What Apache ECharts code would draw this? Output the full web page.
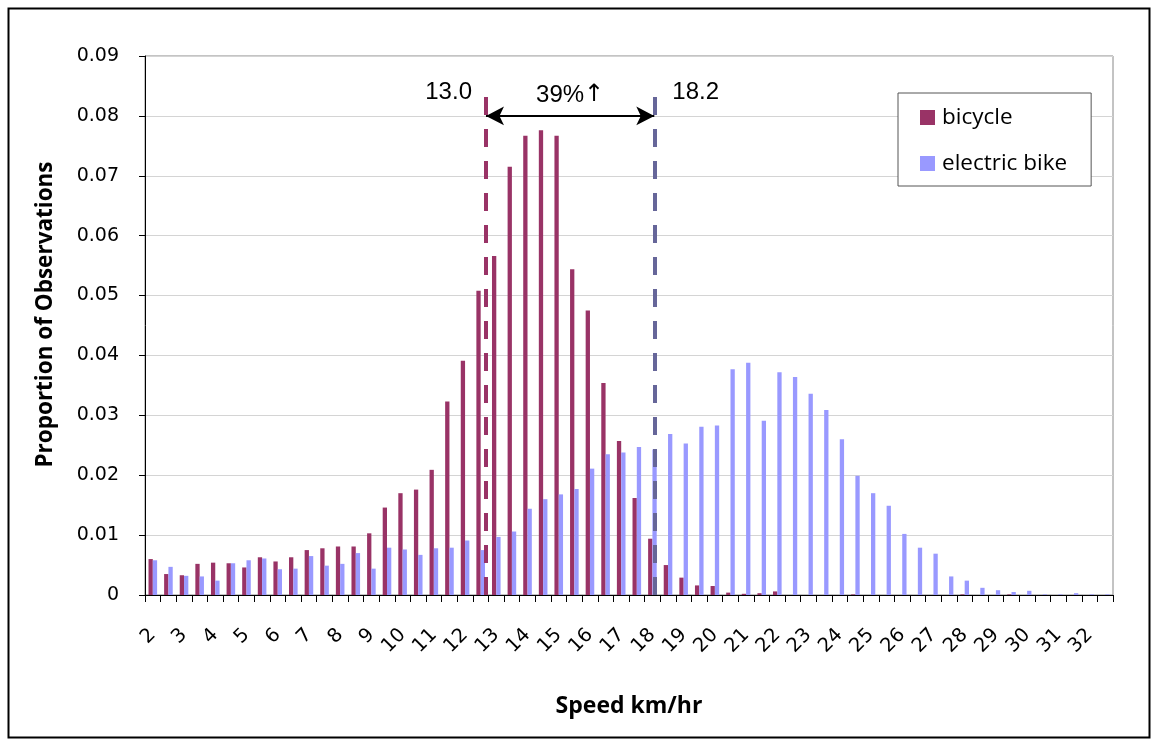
<!DOCTYPE html>
<html>
<head>
<meta charset="utf-8">
<script src="https://cdn.jsdelivr.net/npm/echarts@6/dist/echarts.min.js"></script>
<style>
html,body{margin:0;padding:0;background:#fff;}
#chart{width:1158px;height:746px;}
</style>
</head>
<body>
<div id="chart"></div>
<script>
// Speed categories (km/hr), half-unit bins
const categories = ['2','2.5','3','3.5','4','4.5','5','5.5','6','6.5','7','7.5','8','8.5','9','9.5','10','10.5','11','11.5','12','12.5','13','13.5','14','14.5','15','15.5','16','16.5','17','17.5','18','18.5','19','19.5','20','20.5','21','21.5','22','22.5','23','23.5','24','24.5','25','25.5','26','26.5','27','27.5','28','28.5','29','29.5','30','30.5','31','31.5','32','32.5'];

const bicycle = [0.0060,0.0035,0.0033,0.0052,0.0054,0.0053,0.0046,0.0063,0.0056,0.0063,
  0.0075,0.0078,0.0081,0.0081,0.0103,0.0146,0.0170,0.0176,0.0209,0.0323,
  0.0391,0.0508,0.0566,0.0715,0.0767,0.0776,0.0767,0.0544,0.0475,0.0354,
  0.0257,0.0162,0.0094,0.0050,0.0029,0.0016,0.0015,0.0004,0.0002,0.0003,
  0.0006,0,0,0,0,0.0001,0,0,0,0,
  0,0,0.0001,0,0,0.0001,0,0,0,0,
  0,0];

const electricBike = [0.0058,0.0047,0.0032,0.0031,0.0024,0.0053,0.0058,0.0061,0.0043,0.0044,
  0.0065,0.0049,0.0052,0.0070,0.0044,0.0079,0.0076,0.0067,0.0078,0.0079,
  0.0091,0.0075,0.0097,0.0106,0.0144,0.0160,0.0168,0.0177,0.0211,0.0235,
  0.0238,0.0247,0.0243,0.0269,0.0253,0.0281,0.0283,0.0377,0.0388,0.0291,
  0.0372,0.0364,0.0336,0.0309,0.0260,0.0199,0.0170,0.0149,0.0102,0.0079,
  0.0069,0.0031,0.0024,0.0012,0.0008,0.0005,0.0007,0.0001,0.0001,0.0003,
  0.0001,0.0001];

const yTicks = [0,0.01,0.02,0.03,0.04,0.05,0.06,0.07,0.08,0.09];

// Annotation: mean-speed markers as drawn on the reference (speed units on a hidden continuous axis)
const meanLabels = ['13.0','18.2'];
const meanPositions = [12.67, 18.06];
const increasePct = '39%';
const increaseArrow = '↑';
const markerTop = 0.0848;
const arrowLevel = 0.08;

const chart = echarts.init(document.getElementById('chart'), null, {renderer:'canvas'});

const tickFont = 'DejaVu Sans';
const titleFont = 'Open Sans';

const option = {
  animation:false,
  backgroundColor:'#fff',
  graphic:[{
    type:'rect', shape:{x:8.5,y:8.5,width:1141,height:729},
    style:{fill:'none',stroke:'#000',lineWidth:2}, silent:true, z:-1
  }],
  legend:{
    data:['bicycle','electric bike'],
    orient:'vertical',
    left:898, top:93,
    padding:[13,24,11,22],
    itemGap:23,
    itemWidth:15, itemHeight:15,
    icon:'rect',
    backgroundColor:'#fff',
    borderColor:'#555',
    borderWidth:1,
    borderRadius:0,
    textStyle:{fontFamily:titleFont,fontSize:22.5,color:'#000',lineHeight:22,padding:[0,0,0,2]}
  },
  grid:{left:145,right:45,top:56,bottom:151,show:true,borderColor:'#888',borderWidth:1,containLabel:false},
  xAxis:[{
    type:'category',
    data:categories,
    boundaryGap:true,
    name:'Speed km/hr',
    nameLocation:'middle',
    nameGap:100,
    nameTextStyle:{fontFamily:titleFont,fontWeight:'bold',fontSize:23,color:'#000'},
    axisLine:{show:true,lineStyle:{color:'#000',width:1}},
    axisTick:{show:true,interval:0,length:7,alignWithLabel:false,lineStyle:{color:'#000'}},
    axisLabel:{interval:1,rotate:45,margin:37,fontFamily:tickFont,fontSize:19.5,color:'#000'},
    splitLine:{show:false}
  },{
    type:'value', min:1.75, max:32.75, show:false
  }],
  yAxis:{
    type:'value',
    min:0, max:0.09, interval:0.01,
    name:'Proportion of Observations',
    nameLocation:'middle',
    nameGap:88,
    nameRotate:90,
    nameTextStyle:{fontFamily:titleFont,fontWeight:'bold',fontSize:22.5,color:'#000',padding:[0,0,0,22]},
    axisLine:{show:true,lineStyle:{color:'#000',width:1}},
    axisTick:{show:true,length:6,lineStyle:{color:'#000'}},
    axisLabel:{margin:26,fontFamily:tickFont,fontSize:19,color:'#000',
      formatter:function(v){ const t = yTicks.find(x=>Math.abs(x-v)<1e-9); return (t===0)?'0':(t!==undefined? t.toFixed(2): v.toFixed(2)); }},
    splitLine:{show:true,lineStyle:{color:'#d4d4d4',width:1}}
  },
  series:[
    {name:'bicycle',type:'bar',data:bicycle,barWidth:4.3,barGap:'0%',
      itemStyle:{color:'#993366'}},
    {name:'electric bike',type:'bar',data:electricBike,barWidth:4.3,barGap:'0%',
      itemStyle:{color:'#9999ff'}},
    {name:'annot',type:'line',xAxisIndex:1,yAxisIndex:0,data:[],silent:true,z:5,
      markLine:{
        silent:true,
        symbol:['none','none'],
        animation:false,
        label:{show:false},
        data:[
          [{coord:[meanPositions[0],0],lineStyle:{color:'#993366',width:4,type:[18,14]}},{coord:[meanPositions[0],markerTop]}],
          [{coord:[meanPositions[1],0],lineStyle:{color:'#666699',width:4,type:[18,14]}},{coord:[meanPositions[1],markerTop]}],
          [{coord:[meanPositions[0],arrowLevel],symbol:'arrow',symbolSize:[14,18],lineStyle:{color:'#000',width:2,type:'solid'}},
           {coord:[meanPositions[1],arrowLevel],symbol:'arrow',symbolSize:[14,18]}]
        ]
      },
      markPoint:{
        silent:true,
        symbol:'circle',symbolSize:0,
        data:[
          {coord:[meanPositions[0],0.084],label:{show:true,formatter:meanLabels[0],position:'left',distance:14,fontFamily:'Liberation Sans',fontSize:24,color:'#000'}},
          {coord:[meanPositions[1],0.084],label:{show:true,formatter:meanLabels[1],position:'right',distance:18,fontFamily:'Liberation Sans',fontSize:24,color:'#000'}},
          {coord:[(meanPositions[0]+meanPositions[1])/2,0.0835],label:{show:true,
            formatter:increasePct+'{a|'+increaseArrow+'}',position:'inside',fontFamily:'Liberation Sans',fontSize:24,color:'#000',
            rich:{a:{fontFamily:'DejaVu Sans',fontSize:24,color:'#000'}}}}
        ]
      }
    }
  ]
};
chart.setOption(option);
</script>
</body>
</html>
